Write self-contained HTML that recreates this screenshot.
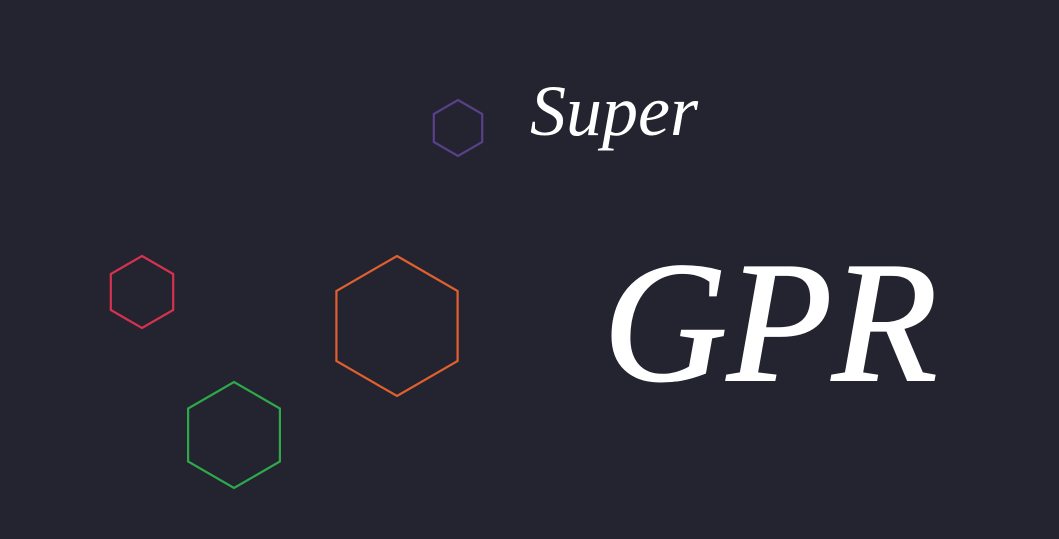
<!DOCTYPE html>
<html>
<head>
<meta charset="utf-8">
<style>
html,body{margin:0;padding:0;background:#23242f;}
body{width:1059px;height:539px;overflow:hidden;position:relative;}
svg{position:absolute;left:0;top:0;}
</style>
</head>
<body>
<svg width="1059" height="539" viewBox="0 0 1059 539">
  <rect width="1059" height="539" fill="#23242f"/>
  <g id="hexes" fill="none" stroke-width="2.2"></g>
  <text x="530" y="135" font-family="'Liberation Serif', serif" font-style="italic" font-size="72" fill="#ffffff">Super</text>
  <text x="603" y="380" font-family="'Liberation Serif', serif" font-style="italic" font-size="172" fill="#ffffff" stroke="#ffffff" stroke-width="2">GPR</text>
</svg>
<script>
const hexNames = ['hexagon-purple','hexagon-red','hexagon-orange','hexagon-green'];
const hexCx = [458,142,397,234];
const hexCy = [128,292,326,435];
const hexR = [28,36,70,53];
const hexColors = ['#5b3f8a','#d63250','#e0602f','#2ea84a'];
const g = document.getElementById('hexes');
for (let i = 0; i < hexNames.length; i++) {
  const pts = [];
  for (let k = 0; k < 6; k++) {
    const a = Math.PI / 180 * (60 * k - 90);
    pts.push((hexCx[i] + hexR[i] * Math.cos(a)).toFixed(1) + ',' + (hexCy[i] + hexR[i] * Math.sin(a)).toFixed(1));
  }
  const p = document.createElementNS('http://www.w3.org/2000/svg', 'polygon');
  p.setAttribute('points', pts.join(' '));
  p.setAttribute('stroke', hexColors[i]);
  
  
  g.appendChild(p);
}
</script>
</body>
</html>
